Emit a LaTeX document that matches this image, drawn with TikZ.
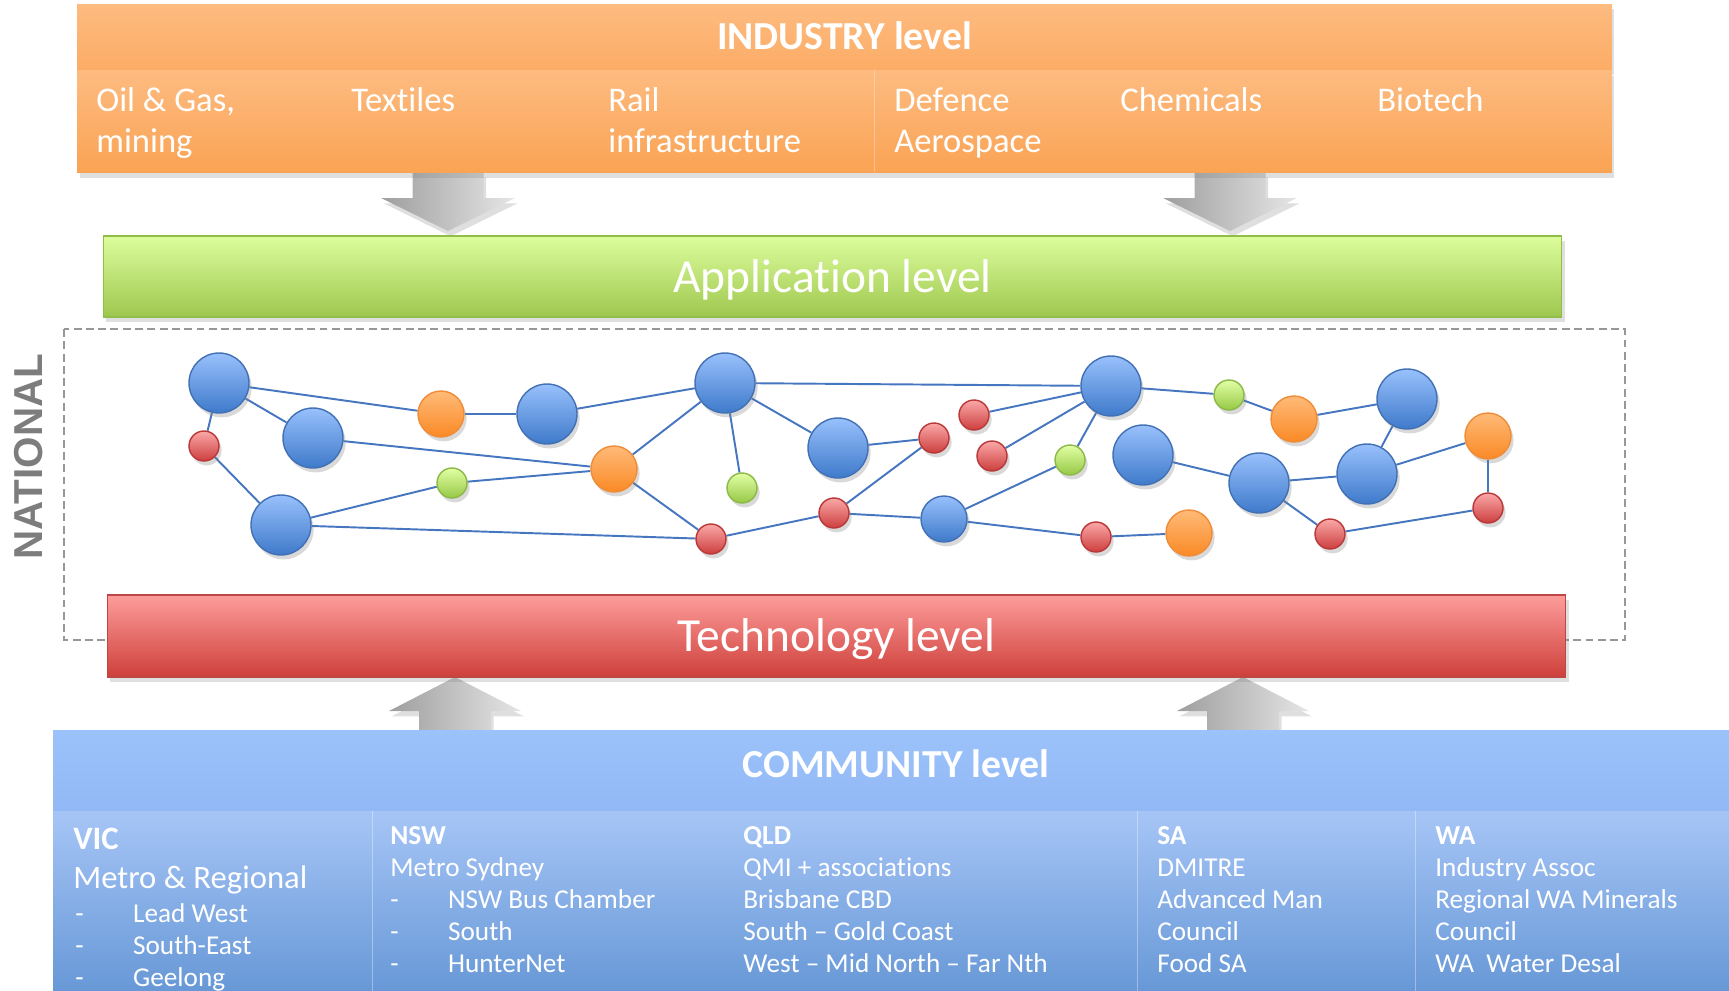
\documentclass[tikz,border=0pt]{standalone}
\usepackage{fontspec}
\setmainfont{Carlito}[Ligatures={TeX,NoCommon}]
\newfontfamily\natfont{Liberation Sans}
\usetikzlibrary{positioning,shadows,backgrounds}
\definecolor{indtop}{RGB}{253,187,128}
\definecolor{indmid}{RGB}{252,172,102}
\definecolor{indbot}{RGB}{250,163,84}
\definecolor{apptop}{RGB}{221,253,157}
\definecolor{appbot}{RGB}{158,199,78}
\definecolor{appline}{RGB}{145,190,75}
\definecolor{techtop}{RGB}{253,157,155}
\definecolor{techbot}{RGB}{206,63,58}
\definecolor{techline}{RGB}{190,70,68}
\definecolor{comtop}{RGB}{156,194,251}
\definecolor{commid}{RGB}{146,185,245}
\definecolor{comlow}{RGB}{166,197,246}
\definecolor{combot}{RGB}{96,147,211}
\definecolor{bluetop}{RGB}{152,192,252}
\definecolor{bluebot}{RGB}{62,122,202}
\definecolor{blueline}{RGB}{66,112,180}
\definecolor{orangetop}{RGB}{255,186,120}
\definecolor{orangebot}{RGB}{250,138,38}
\definecolor{orangeline}{RGB}{240,140,55}
\definecolor{redtop}{RGB}{251,168,168}
\definecolor{redbot}{RGB}{205,62,62}
\definecolor{redline}{RGB}{185,55,55}
\definecolor{greentop}{RGB}{226,255,165}
\definecolor{greenbot}{RGB}{150,200,70}
\definecolor{greenline}{RGB}{140,185,70}
\definecolor{linkblue}{RGB}{70,118,192}
\definecolor{natgray}{RGB}{125,125,125}
\tikzstyle{soft shadow}=[drop shadow={shadow xshift=1.5pt,shadow yshift=-3pt,opacity=0.25}]
\tikzstyle{ball}=[circle,inner sep=0pt,line width=0.8pt,drop shadow={shadow xshift=1.5pt,shadow yshift=-2.5pt,opacity=0.3}]
\tikzstyle{blue ball}=[ball,minimum size=1.2cm,draw=blueline,top color=bluetop,bottom color=bluebot]
\tikzstyle{small blue ball}=[blue ball,minimum size=0.92cm]
\tikzstyle{orange ball}=[ball,minimum size=0.92cm,draw=orangeline,top color=orangetop,bottom color=orangebot]
\tikzstyle{red ball}=[ball,minimum size=0.6cm,draw=redline,top color=redtop,bottom color=redbot]
\tikzstyle{green ball}=[ball,minimum size=0.6cm,draw=greenline,top color=greentop,bottom color=greenbot]
\tikzstyle{link}=[draw=linkblue,line width=1.1pt]
\tikzstyle{band}=[rectangle,inner sep=0pt,text=white,soft shadow]
\tikzstyle{big arrow}=[left color=black!38,right color=black!10,soft shadow]
\tikzstyle{level title}=[font=\fontsize{22.6}{26}\selectfont\bfseries]
\tikzstyle{layer title}=[font=\fontsize{27}{30}\selectfont]
\tikzstyle{sector}=[text=white,anchor=base west,align=left,inner sep=0pt,font=\fontsize{19.7}{23.2}\selectfont]
\tikzstyle{region head}=[text=white,anchor=base west,inner sep=0pt,font=\fontsize{15.6}{18.2}\selectfont\bfseries]
\tikzstyle{region list}=[text=white,anchor=base west,align=left,inner sep=0pt,font=\fontsize{15.5}{18.2}\selectfont]
\newcommand{\listdash}{\makebox[32.9pt][l]{-}}
\begin{document}
\begin{tikzpicture}[x=0.02cm,y=-0.02cm]
  \useasboundingbox (0,0) rectangle (1729,991);

  % arrows between the levels
  \foreach \ax in {448,1230}
    \shade[big arrow] (\ax-35.5,172) -- (\ax+35.5,172) -- (\ax+35.5,198) -- (\ax+67,198) -- (\ax,231) -- (\ax-67,198) -- (\ax-35.5,198) -- cycle;
  \foreach \ax in {455,1243}
    \shade[big arrow] (\ax-36,735) -- (\ax-36,711) -- (\ax-66,711) -- (\ax,677) -- (\ax+66,711) -- (\ax+36,711) -- (\ax+36,735) -- cycle;

  % industry level
  \node[band,minimum width=30.7cm,minimum height=1.32cm,top color=indtop,bottom color=indmid,level title,text height=14.7pt,text depth=0pt] (industry) at (844.5,37) {INDUSTRY level};
  \node[band,minimum width=30.7cm,minimum height=2.04cm,top color=indtop,bottom color=indbot,below=0pt of industry] (sectors) {};
  \draw[white,opacity=0.3] (874,70) -- (874,172);
  % multi-line labels sit on their last line
  \node[sector] (oilgas) at (96,152) {Oil \& Gas,\\mining};
  \node[sector] (textiles) at (351,111) {Textiles};
  \node[sector] (rail) at (608,152) {Rail\\infrastructure};
  \node[sector] (defence) at (894,152) {Defence\\Aerospace};
  \node[sector] (chemicals) at (1120,111) {Chemicals};
  \node[sector] (biotech) at (1377,111) {Biotech};

  \node[band,minimum width=29.18cm,minimum height=1.62cm,draw=appline,line width=0.6pt,top color=apptop,bottom color=appbot,layer title,text height=18.7pt,text depth=0pt] (application) at (832.5,276.5) {Application level};

  % national network
  \draw[natgray!80,line width=0.7pt,dash pattern=on 4.5pt off 2.5pt] (64,329) rectangle (1625,640);
  \node[font=\natfont\bfseries\fontsize{23}{23}\selectfont,text=natgray,rotate=90] (national) at (28.5,456.5) {NATIONAL};

  \node[blue ball] (b1) at (219,383) {};
  \node[red ball] (r1) at (204,446) {};
  \node[blue ball] (b2) at (313,438) {};
  \node[blue ball] (b3) at (281,525) {};
  \node[orange ball] (o1) at (441,414) {};
  \node[blue ball] (b4) at (547,414) {};
  \node[green ball] (g1) at (452,483) {};
  \node[orange ball] (o2) at (614,469) {};
  \node[blue ball] (b5) at (725,383) {};
  \node[green ball] (g2) at (742,488) {};
  \node[red ball] (r2) at (711,539) {};
  \node[blue ball] (b6) at (838,448) {};
  \node[red ball] (r3) at (834,513) {};
  \node[red ball] (r4) at (934,438) {};
  \node[red ball] (r5) at (974,415) {};
  \node[red ball] (r6) at (992,456) {};
  \node[blue ball] (b7) at (1111,386) {};
  \node[green ball] (g3) at (1070,460) {};
  \node[small blue ball] (b8) at (944,519) {};
  \node[red ball] (r7) at (1096,537) {};
  \node[orange ball] (o3) at (1189,533) {};
  \node[blue ball] (b9) at (1143,455) {};
  \node[green ball] (g4) at (1229,395) {};
  \node[orange ball] (o4) at (1294,419) {};
  \node[blue ball] (b10) at (1407,399) {};
  \node[blue ball] (b11) at (1259,483) {};
  \node[blue ball] (b12) at (1367,474) {};
  \node[orange ball] (o5) at (1488,436) {};
  \node[red ball] (r8) at (1488,508) {};
  \node[red ball] (r9) at (1330,534) {};

  \begin{scope}[on background layer]
    \path[link] (b1) edge (o1) edge (r1) edge (b2)
      (r1) edge (b3) (b2) edge (o2) (o1) edge (b4) (b4) edge (b5)
      (b3) edge (g1) edge (r2) (g1) edge (o2)
      (o2) edge (b5) edge (r2)
      (b5) edge (g2) edge (b6) edge (b7)
      (b6) edge (r4) (r2) edge (r3) (r3) edge (r4) edge (b8)
      (r5) edge (b7) (r6) edge (b7) (g3) edge (b7)
      (b8) edge (g3) edge (r7) (r7) edge (o3)
      (b7) edge (g4) (g4) edge (o4) (o4) edge (b10)
      (b9) edge (b11) (b11) edge (b12) edge (r9) (b10) edge (b12)
      (b12) edge (o5) (o5) edge (r8) (r9) edge (r8);
  \end{scope}

  \node[band,minimum width=29.18cm,minimum height=1.64cm,draw=techline,line width=0.6pt,top color=techtop,bottom color=techbot,layer title,text height=18.1pt,text depth=0pt] (technology) at (836.5,636) {Technology level};

  % community level
  \node[band,minimum width=33.72cm,minimum height=1.62cm,top color=comtop,bottom color=commid,level title,text height=7.4pt,text depth=0pt] (community) at (896,770.5) {COMMUNITY level};
  \node[band,minimum width=33.72cm,minimum height=4cm,top color=comlow,bottom color=combot,below=0pt of community] (regions) {};
  \foreach \dx in {372,1137,1415}
    \draw[white,opacity=0.35] (\dx,811) -- (\dx,991);

  \node[region head,font=\fontsize{18.6}{22}\selectfont\bfseries] (vic) at (73,849) {VIC};
  \node[region list,font=\fontsize{18.6}{22}\selectfont] (vicmetro) at (73,888) {Metro \& Regional};
  \node[region list] (viclist) at (75,986) {\listdash Lead West\\\listdash South-East\\\listdash Geelong};
  \node[region head] (nsw) at (390,844) {NSW};
  \node[region list] (nswlist) at (390,972) {Metro Sydney\\\listdash NSW Bus Chamber\\\listdash South\\\listdash HunterNet};
  \node[region head] (qld) at (743,844) {QLD};
  \node[region list] (qldlist) at (743,972) {QMI + associations\\Brisbane CBD\\South -- Gold Coast\\West -- Mid North -- Far Nth};
  \node[region head] (sa) at (1157,844) {SA};
  \node[region list] (salist) at (1157,972) {DMITRE\\Advanced Man\\Council\\Food SA};
  \node[region head] (wa) at (1435,844) {WA};
  \node[region list] (walist) at (1435,972) {Industry Assoc\\Regional WA Minerals\\Council\\WA\ \ Water Desal};
\end{tikzpicture}
\end{document}
